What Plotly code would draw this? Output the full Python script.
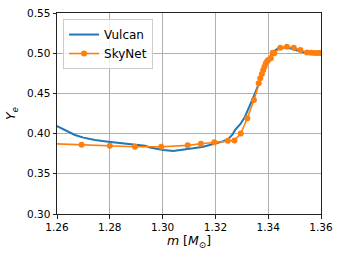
import plotly.graph_objects as go

# Vulcan (blue line)
vulcan_m = [1.2595, 1.2620, 1.2645, 1.2668, 1.2700, 1.2744, 1.2794, 1.2845, 1.2895, 1.2933,
            1.2952, 1.2980, 1.3003, 1.3040, 1.3078, 1.3116, 1.3154, 1.3180, 1.3205, 1.3230,
            1.3249, 1.3265, 1.3274, 1.3295, 1.3312, 1.3330, 1.3350, 1.3375, 1.3400, 1.3419,
            1.3440, 1.3460, 1.3483, 1.3505, 1.3530, 1.3555, 1.3580, 1.3605]
vulcan_ye = [0.4100, 0.4060, 0.4020, 0.3983, 0.3950, 0.3920, 0.3900, 0.3880, 0.3858, 0.3850,
             0.3828, 0.3810, 0.3796, 0.3784, 0.3796, 0.3817, 0.3837, 0.3858, 0.3885, 0.3905,
             0.3935, 0.3990, 0.4045, 0.4120, 0.4210, 0.4340, 0.4500, 0.4708, 0.4915, 0.5019,
             0.5065, 0.5070, 0.5060, 0.5040, 0.5015, 0.5002, 0.5000, 0.5000]

# SkyNet (orange line with dots)
skynet_m = [1.2580, 1.2693, 1.2800, 1.2895, 1.2995, 1.3095, 1.3145, 1.3196, 1.3247, 1.3272,
            1.3296, 1.3321, 1.3346, 1.3364, 1.3370, 1.3376, 1.3381, 1.3386, 1.3391, 1.3396,
            1.3400, 1.3410, 1.3417, 1.3423, 1.3446, 1.3471, 1.3497, 1.3522, 1.3547, 1.3562,
            1.3575, 1.3587, 1.3597]
skynet_ye = [0.3875, 0.3862, 0.3850, 0.3837, 0.3837, 0.3854, 0.3874, 0.3892, 0.3910, 0.3915,
             0.4000, 0.4190, 0.4418, 0.4625, 0.4688, 0.4740, 0.4790, 0.4832, 0.4874, 0.4900,
             0.4915, 0.4936, 0.5006, 0.5000, 0.5068, 0.5080, 0.5068, 0.5040, 0.5010, 0.5006,
             0.5003, 0.5003, 0.5003]

x_ticks = [1.26, 1.28, 1.30, 1.32, 1.34, 1.36]
y_ticks = [0.30, 0.35, 0.40, 0.45, 0.50, 0.55]

fig = go.Figure()
fig.add_trace(go.Scatter(x=vulcan_m, y=vulcan_ye, mode="lines", name="Vulcan",
                         line=dict(color="#1f77b4", width=2)))
fig.add_trace(go.Scatter(x=skynet_m, y=skynet_ye, mode="lines+markers", name="SkyNet",
                         line=dict(color="#ff7f0e", width=1.6),
                         marker=dict(color="#ff7f0e", size=6)))

axis_common = dict(showgrid=True, gridcolor="#b0b0b0", gridwidth=0.8,
                   showline=True, linecolor="#222222", linewidth=1, mirror=True,
                   ticks="outside", ticklen=3.5, tickcolor="#222222", zeroline=False,
                   automargin=False,
                   tickfont=dict(family="DejaVu Sans", size=10.5, color="#000"))

fig.update_xaxes(range=[1.26, 1.36], tickvals=x_ticks, tickformat=".2f",
                 title=dict(text="<i>m</i> [<i>M</i><sub>⊙</sub>]",
                            font=dict(family="DejaVu Sans", size=12.5, color="#000"),
                            standoff=4),
                 **axis_common)
fig.update_yaxes(range=[0.30, 0.55], tickvals=y_ticks, tickformat=".2f",
                 title=dict(text="<i>Y</i><sub><i>e</i></sub>",
                            font=dict(family="DejaVu Sans", size=12.5, color="#000"),
                            standoff=8),
                 **axis_common)

fig.update_layout(
    width=342, height=257,
    margin=dict(l=57, r=21, t=13, b=43),
    paper_bgcolor="white", plot_bgcolor="white",
    showlegend=True,
    legend=dict(x=0.023, y=0.97, xanchor="left", yanchor="top",
                bgcolor="rgba(255,255,255,0.8)", bordercolor="#cccccc", borderwidth=1,
                font=dict(family="DejaVu Sans", size=12, color="#000"),
                itemwidth=30, tracegroupgap=0),
)

fig.write_html("out.html",
               config={"displayModeBar": False},
               post_script="document.body.style.margin='0';document.body.style.overflow='hidden';")
